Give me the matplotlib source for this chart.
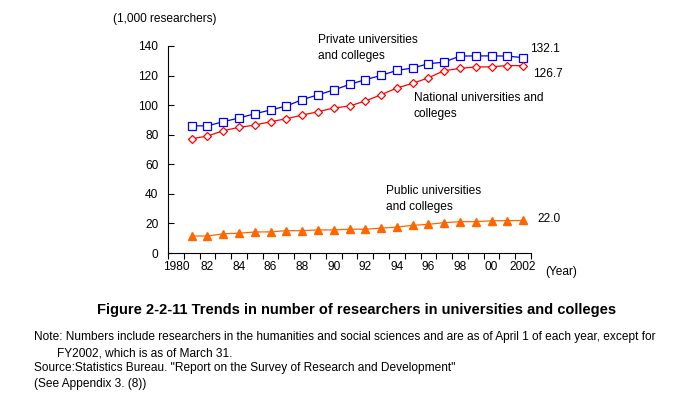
import matplotlib.pyplot as plt

plt.rcParams['font.family'] = ['Liberation Sans', 'DejaVu Sans']

years = list(range(1981, 2003))
private = [86.0, 86.0, 88.8, 91.3, 94.2, 96.7, 99.4, 103.7, 107.0, 110.2, 114.0,
           117.2, 120.1, 123.5, 125.1, 128.0, 129.1, 133.2, 133.3, 133.3, 133.2, 132.1]
national = [77.3, 79.1, 82.7, 85.0, 86.5, 88.8, 90.8, 93.3, 95.5, 98.1, 99.4,
            102.8, 107.0, 111.6, 114.7, 118.5, 123.3, 124.9, 125.8, 125.9, 126.8, 126.7]
public = [11.5, 11.5, 13.0, 13.4, 14.2, 14.3, 15.1, 15.1, 15.6, 15.6, 16.1,
          16.1, 16.8, 17.5, 18.7, 19.4, 20.5, 21.2, 21.2, 21.8, 21.9, 22.0]
xtick_labels = ['1980', '82', '84', '86', '88', '90', '92', '94', '96', '98', '00', '2002']

fig = plt.figure(figsize=(6.97, 3.99), dpi=100)
ax = fig.add_axes([168/697, 1-253/399, 363/697, 207/399])

ax.plot(years, private, color='#0000ff', lw=0.9, marker='s', ms=5.3,
        mfc='white', mec='#0000ff', mew=0.9)
ax.plot(years, national, color='#ff0000', lw=0.9, marker='D', ms=4.3,
        mfc='white', mec='#ff0000', mew=0.9)
ax.plot(years, public, color='#ff6600', lw=0.9, marker='^', ms=6,
        mfc='#ff6600', mec='#ff6600')

ax.set_xlim(1979.5, 2002.5)
ax.set_ylim(0, 140)
ax.set_yticks(range(0, 141, 20))
ax.set_xticks([y + 0.5 for y in range(1979, 2003)], minor=False)
ax.set_xticklabels([])
ax.set_xticks(range(1980, 2003, 2), minor=True)
ax.set_xticklabels(xtick_labels, minor=True)
fs = 8.6
ax.tick_params(axis='x', which='major', direction='out', length=4, width=0.8)
ax.tick_params(axis='x', which='minor', length=0, labelsize=fs, pad=6)
ax.tick_params(axis='y', direction='in', length=4, width=0.8, labelsize=fs, pad=7)
for s in ['top', 'right']:
    ax.spines[s].set_visible(False)
for s in ['left', 'bottom']:
    ax.spines[s].set_linewidth(0.8)

fig.text(113/697, 1-19/399, '(1,000 researchers)', fontsize=fs, va='center')
fig.text(545/697, 1-272/399, '(Year)', fontsize=fs, va='center')
fig.text(318/697, 1-48/399, 'Private universities\nand colleges', fontsize=fs,
         va='center', linespacing=1.4)
fig.text(414/697, 1-106/399, 'National universities and\ncolleges', fontsize=fs,
         va='center', linespacing=1.4)
fig.text(386/697, 1-199/399, 'Public universities\nand colleges', fontsize=fs,
         va='center', linespacing=1.4)
fig.text(530/697, 1-49/399, '132.1', fontsize=fs, va='center')
fig.text(533/697, 1-74/399, '126.7', fontsize=fs, va='center')
fig.text(537/697, 1-219/399, '22.0', fontsize=fs, va='center')

fig.text(357/697, 1-310/399,
         'Figure 2-2-11 Trends in number of researchers in universities and colleges',
         fontsize=10.5, fontweight='bold', ha='center', va='center')
fig.text(34/697, 1-337/399,
         'Note: Numbers include researchers in the humanities and social sciences and are as of April 1 of each year, except for',
         fontsize=fs, va='center')
fig.text(57/697, 1-353/399, 'FY2002, which is as of March 31.', fontsize=fs, va='center')
fig.text(34/697, 1-368/399,
         'Source:Statistics Bureau. "Report on the Survey of Research and Development"',
         fontsize=fs, va='center')
fig.text(34/697, 1-384/399, '(See Appendix 3. (8))', fontsize=fs, va='center')

fig.savefig('out.png', dpi=100)
